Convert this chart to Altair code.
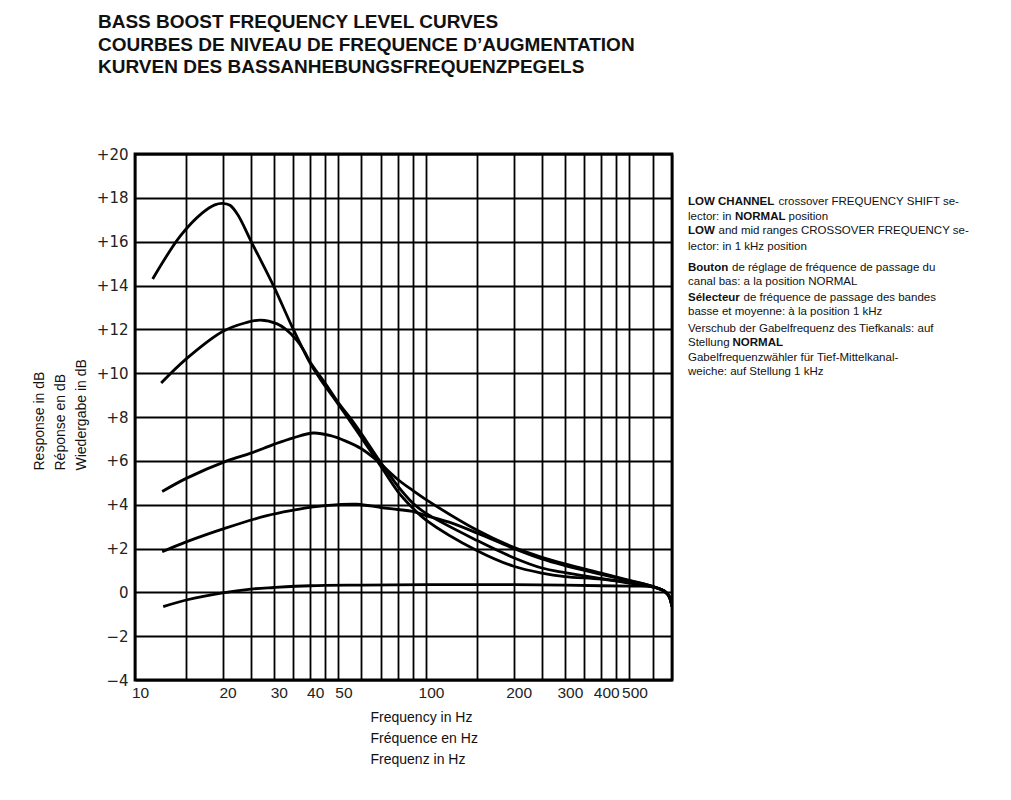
import altair as alt
import pandas as pd

# ---------------- text ----------------
TITLE_LINES = [
    "BASS BOOST FREQUENCY LEVEL CURVES",
    "COURBES DE NIVEAU DE FREQUENCE D\u2019AUGMENTATION",
    "KURVEN DES BASSANHEBUNGSFREQUENZPEGELS",
]
X_TITLE = ["Frequency in Hz", "Fr\u00e9quence en Hz", "Frequenz in Hz"]
Y_TITLE = ["Response in dB", "R\u00e9ponse en dB", "Wiedergabe in dB"]

# ---------------- axes ----------------
X_GRID = [10, 15, 20, 25, 30, 35, 40, 45, 50, 60, 70, 80, 90, 100,
          150, 200, 250, 300, 350, 400, 450, 500, 600, 700]
X_LABELED = [10, 20, 30, 40, 50, 100, 200, 300, 400, 500]
Y_TICKS = [-4, -2, 0, 2, 4, 6, 8, 10, 12, 14, 16, 18, 20]

# ---------------- curves (frequency Hz, level dB) ----------------
c1_f = [11.5, 14.3, 17.0, 18.8, 20.0, 21.2, 22.5, 25.2, 30, 34.7, 40, 43.2, 48, 53.3, 60, 68,
        80, 90, 100, 150, 200, 250, 300, 400, 500, 600, 660, 685, 700]
c1_db = [14.3, 16.25, 17.3, 17.68, 17.75, 17.66, 17.25, 15.95, 13.95, 12.1, 10.45, 9.75, 8.9, 8.05, 7.05, 6.0,
         4.6, 3.85, 3.3, 1.9, 1.19, 0.88, 0.72, 0.6, 0.42, 0.25, 0.05, -0.2, -0.65]

c2_f = [12.3, 15, 20, 24, 27, 30.8, 33, 36, 38, 40, 45, 50, 56, 62, 68,
        80, 90, 100, 150, 200, 250, 300, 400, 500, 600, 660, 685, 700]
c2_db = [9.55, 10.65, 11.9, 12.3, 12.42, 12.25, 12.0, 11.5, 11.05, 10.5, 9.55, 8.65, 7.8, 6.95, 6.15,
         4.85, 4.08, 3.6, 2.36, 1.58, 1.11, 0.9, 0.63, 0.45, 0.25, 0.05, -0.2, -0.65]

c3_f = [12.4, 15, 20.7, 25, 30, 35, 41, 47, 53, 60, 68, 80, 90, 100,
        150, 200, 250, 300, 400, 500, 600, 660, 685, 700]
c3_db = [4.6, 5.2, 6.0, 6.35, 6.75, 7.05, 7.27, 7.15, 6.9, 6.55, 6.0, 5.15, 4.65, 4.23,
         2.83, 2.05, 1.6, 1.3, 0.88, 0.55, 0.27, 0.05, -0.2, -0.65]

c4_f = [12.4, 15, 20.7, 28.4, 35, 41, 50, 58, 70, 80, 90, 100, 120, 150, 200, 250, 300, 400,
        500, 600, 660, 685, 700]
c4_db = [1.85, 2.3, 2.95, 3.5, 3.75, 3.9, 4.0, 4.02, 3.87, 3.78, 3.69, 3.5, 3.2, 2.7, 2.0, 1.52, 1.22, 0.82,
         0.52, 0.27, 0.05, -0.2, -0.65]

c5_f = [12.5, 15, 20, 25, 30, 40, 60, 100, 200, 300, 400, 500, 600, 660, 685, 700]
c5_db = [-0.65, -0.35, -0.02, 0.15, 0.22, 0.3, 0.33, 0.35, 0.35, 0.33, 0.3, 0.28, 0.25, 0.05, -0.2, -0.65]

CURVES = [("c1", c1_f, c1_db), ("c2", c2_f, c2_db), ("c3", c3_f, c3_db),
          ("c4", c4_f, c4_db), ("c5", c5_f, c5_db)]

rows = []
for name, fs, dbs in CURVES:
    for i, (f, d) in enumerate(zip(fs, dbs)):
        rows.append({"curve": name, "i": i, "f": f, "db": d})
df = pd.DataFrame(rows)

# ---------------- side note (segments: text, left x, centre y, weight) ----------------
NOTE_TEXT = [
    "LOW CHANNEL", "crossover FREQUENCY SHIFT se-",
    "lector: in", "NORMAL", "position",
    "LOW", "and mid ranges CROSSOVER FREQUENCY se-",
    "lector: in 1 kHz position",
    "Bouton", "de r\u00e9glage de fr\u00e9quence de passage du",
    "canal bas: a la position NORMAL",
    "S\u00e9lecteur", "de fr\u00e9quence de passage des bandes",
    "basse et moyenne: \u00e0 la position 1 kHz",
    "Verschub der Gabelfrequenz des Tiefkanals: auf",
    "Stellung", "NORMAL",
    "Gabelfrequenzw\u00e4hler   f\u00fcr   Tief-Mittelkanal-",
    "weiche: auf Stellung 1 kHz",
]
NOTE_X = [553, 643.5, 553, 600, 653.5, 553, 583.5, 553, 553, 597, 553,
          553, 608.5, 553, 553, 553, 597.5, 553, 553]
NOTE_Y = [48, 48, 62.5, 62.5, 62.5, 77, 77, 92.5, 113.5, 113.5, 127.5,
          144, 144, 158, 175, 188.5, 188.5, 204, 217.5]
NOTE_W = ["bold", "normal", "normal", "bold", "normal", "bold", "normal", "normal",
          "bold", "normal", "normal", "bold", "normal", "normal", "normal",
          "normal", "bold", "normal", "normal"]
notes = pd.DataFrame({"t": NOTE_TEXT, "px": NOTE_X, "py": NOTE_Y, "w": NOTE_W})

label_list = ",".join(str(v) for v in X_LABELED)

x_axis = alt.Axis(
    values=X_GRID, grid=True, gridColor="black", gridWidth=1.8, gridOpacity=1,
    domain=False, ticks=False, tickSize=0, format="d",
    labelExpr=f"indexof([{label_list}], datum.value) >= 0 ? datum.label : ''",
    labelOverlap=False, labelFlush=False, labelOffset=5, labelPadding=5,
    labelFont="Liberation Sans", labelFontSize=15.5, labelColor="#222",
    title=X_TITLE, titleFont="Liberation Sans", titleFontSize=14,
    titleFontWeight="normal", titleColor="#111", titleAlign="left",
    titleBaseline="top", titleX=235, titleY=30, titleLineHeight=21,
)
y_axis = alt.Axis(
    values=Y_TICKS, grid=True, gridColor="black", gridWidth=1.8, gridOpacity=1,
    domain=False, ticks=False, tickSize=0,
    labelExpr="datum.value > 0 ? '+' + datum.value : (datum.value < 0 ? '\u2212' + abs(datum.value) : '0')",
    labelOverlap=False, labelPadding=7, labelFont="DejaVu Sans", labelFontSize=15,
    labelColor="#222",
    title=Y_TITLE, titleFont="Liberation Sans", titleFontSize=14,
    titleFontWeight="normal", titleColor="#111", titleAngle=270,
    titleAlign="left", titleBaseline="top", titleX=-103, titleY=316,
    titleLineHeight=21,
)

lines = alt.Chart(df).mark_line(
    interpolate="catmull-rom", color="black", strokeWidth=2.8, clip=True
).encode(
    x=alt.X("f:Q", scale=alt.Scale(type="log", domain=[10, 700], nice=False), axis=x_axis),
    y=alt.Y("db:Q", scale=alt.Scale(domain=[-4, 20], nice=False), axis=y_axis),
    detail="curve:N",
    order="i:Q",
)


def note_layer(weight):
    return alt.Chart(notes).transform_filter(
        alt.datum.w == weight
    ).mark_text(
        align="left", baseline="middle", font="Liberation Sans", fontSize=11.5,
        fontWeight=weight, color="#111"
    ).encode(
        x=alt.X("px:Q", scale=None, axis=None),
        y=alt.Y("py:Q", scale=None, axis=None),
        text="t:N",
    )


chart = alt.layer(lines, note_layer("normal"), note_layer("bold")).resolve_scale(
    x="independent", y="independent"
).properties(
    width=537, height=526,
    autosize=alt.AutoSizeParams(type="none"),
    padding={"left": 135, "top": 154, "right": 339, "bottom": 120},
    background="white",
    title=alt.TitleParams(
        text=TITLE_LINES, anchor="start", frame="group", dx=-37, offset=70,
        font="Liberation Sans", fontSize=19, fontWeight="bold", lineHeight=22.5,
        color="#111",
    ),
).configure_view(stroke="black", strokeWidth=2.8)

chart.save("out.html", embed_options={"renderer": "svg", "actions": False})
